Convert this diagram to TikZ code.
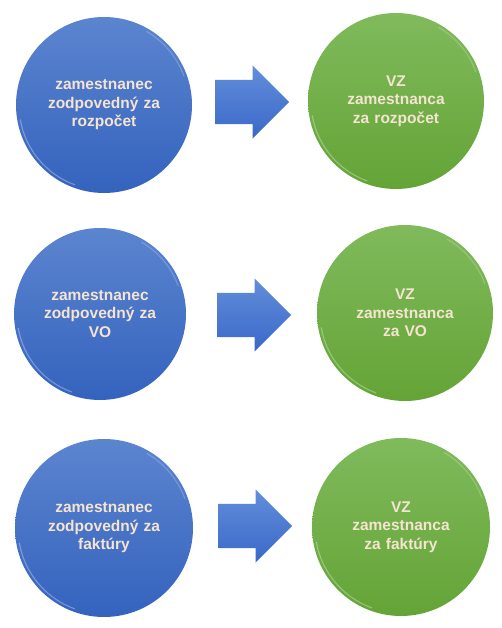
\documentclass[tikz,border=0pt]{standalone}
\usepackage{fontspec}
\setmainfont{Liberation Sans}
\usetikzlibrary{shapes.arrows}

\definecolor{bluetop}{RGB}{92,133,207}
\definecolor{bluebot}{RGB}{52,99,190}
\definecolor{greentop}{RGB}{128,186,92}
\definecolor{greenbot}{RGB}{100,164,54}
\definecolor{arrowtop}{RGB}{98,142,218}
\definecolor{arrowbot}{RGB}{58,104,200}
\definecolor{cream}{RGB}{246,228,210}

\tikzset{
  bubble/.style={circle, inner sep=0pt, text width=150pt, align=center,
    text=cream, font=\fontsize{15.5}{18.5}\selectfont\bfseries},
  person/.style={bubble, top color=bluetop, bottom color=bluebot},
  duty/.style={bubble, top color=greentop, bottom color=greenbot},
  blockarrow/.style={single arrow, anchor=tail, inner xsep=0pt, inner ysep=22pt,
    text height=0pt, text depth=0pt, text width=0pt, minimum height=74pt,
    single arrow head extend=14.5pt,
    top color=arrowtop, bottom color=arrowbot},
  rim/.style={white, opacity=0.3, line width=1.2pt, line cap=round}
}

\begin{document}
\begin{tikzpicture}[x=1pt,y=1pt]
  \useasboundingbox (0,0) rectangle (502,628);

  % riadok 1
  \node[person, minimum size=176pt] (p1) at (104,523) {zamestnanec\\ zodpovedný za\\ rozpočet};
  \node[duty, minimum size=176pt] (v1) at (396,527) {VZ\\ zamestnanca\\ za rozpočet};
  \node[blockarrow] (a1) at (215,526) {};

  % riadok 2
  \node[person, minimum size=172pt] (p2) at (100,314) {zamestnanec\\ zodpovedný za\\ VO};
  \node[duty, minimum size=176pt] (v2) at (405,315) {VZ\\ zamestnanca\\ za VO};
  \node[blockarrow] (a2) at (217,313) {};

  % riadok 3
  \node[person, minimum size=178pt] (p3) at (104,100) {zamestnanec\\ zodpovedný za\\ faktúry};
  \node[duty, minimum size=178pt] (v3) at (401,101) {VZ\\ zamestnanca\\ za faktúry};
  \node[blockarrow] (a3) at (218,102) {};

  % lesk na okrajoch
  \foreach \n/\r in {p1/85, v1/85, p2/83, v2/85, p3/86, v3/86} {
    \draw[rim] (\n.center) ++(190:\r) arc[start angle=190, end angle=250, radius=\r];
    \draw[rim, opacity=0.2] (\n.center) ++(20:\r) arc[start angle=20, end angle=60, radius=\r];
  }
\end{tikzpicture}
\end{document}
